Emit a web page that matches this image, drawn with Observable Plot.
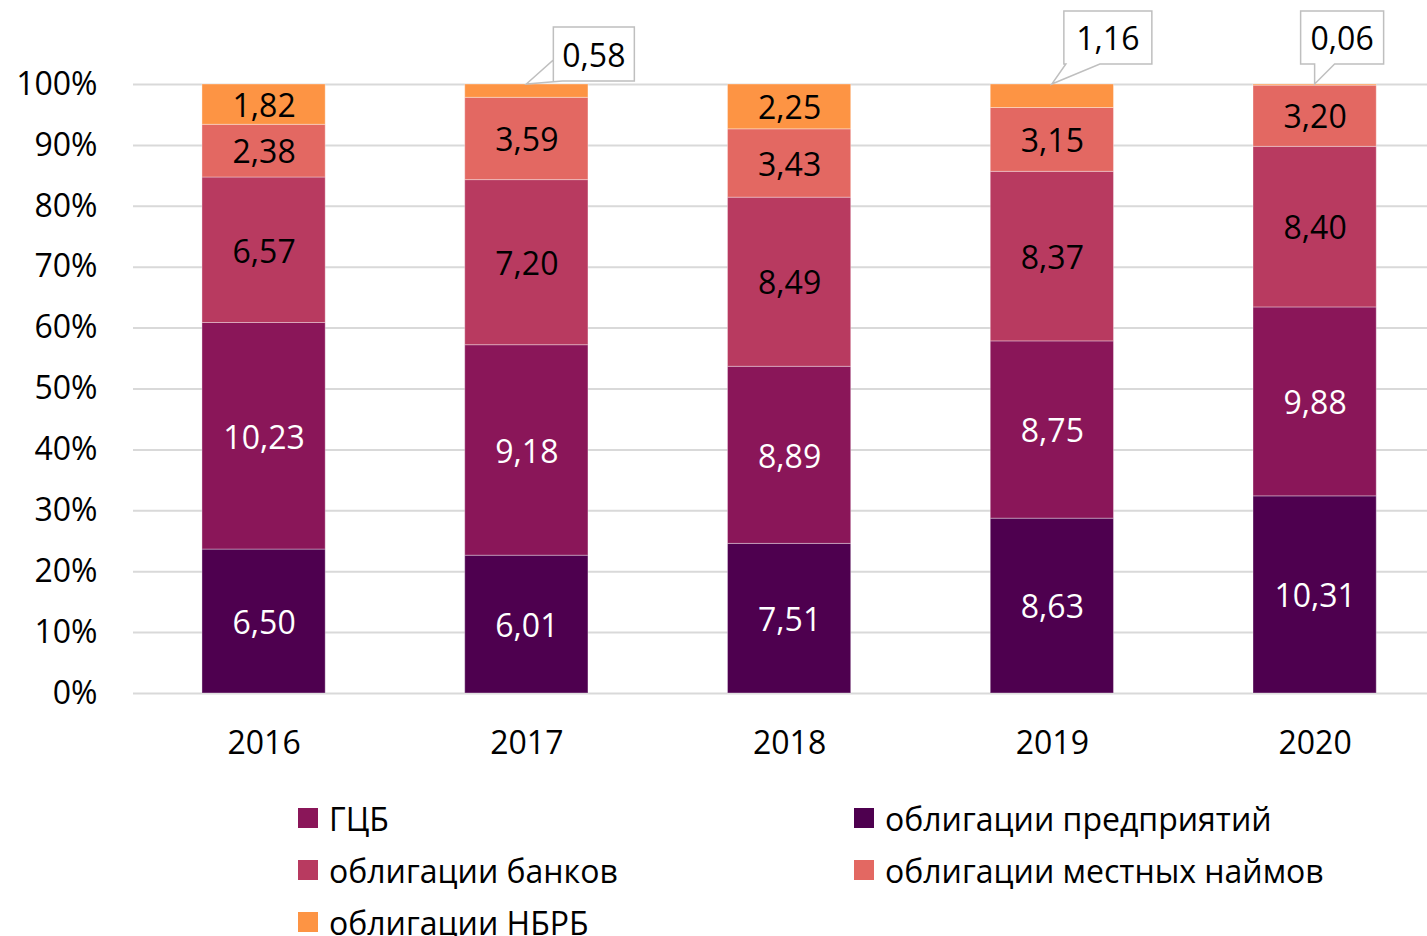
<!DOCTYPE html>
<html>
<head>
<meta charset="utf-8">
<script src="https://cdn.jsdelivr.net/npm/d3@7"></script>
<script src="https://cdn.jsdelivr.net/npm/@observablehq/plot@0.6"></script>
<style>
  html, body { margin: 0; padding: 0; background: white; overflow: hidden; }
  body { width: 1427px; height: 936px; font-family: "Open Sans", sans-serif; }
  #legend { position: relative; height: 146px; font-size: 32px; color: #000; }
  .item { position: absolute; display: flex; align-items: center; height: 40px; white-space: nowrap; }
  .sw { width: 20px; height: 20px; margin-right: 11px; flex: none; }
</style>
</head>
<body>
<div id="chart"></div>
<div id="legend"></div>
<script>
const years = ["2016", "2017", "2018", "2019", "2020"];
const seriesNames = ["облигации предприятий", "ГЦБ", "облигации банков", "облигации местных наймов", "облигации НБРБ"];
const enterprises = [6.50, 6.01, 7.51, 8.63, 10.31];
const gcb = [10.23, 9.18, 8.89, 8.75, 9.88];
const banks = [6.57, 7.20, 8.49, 8.37, 8.40];
const local = [2.38, 3.59, 3.43, 3.15, 3.20];
const nbrb = [1.82, 0.58, 2.25, 1.16, 0.06];
const yTicks = [0, 0.1, 0.2, 0.3, 0.4, 0.5, 0.6, 0.7, 0.8, 0.9, 1];
const calloutYears = ["2017", "2019", "2020"];

const colors = ["#4e004f", "#8a1659", "#b83a60", "#e36862", "#fd9444"];
const labelColors = ["white", "white", "black", "black", "black"];
const legendOrder = [1, 0, 2, 3, 4];

// callout box geometry relative to the bar top (style only)
const calloutShapes = {
  "2017": {x0: 27, x1: 108, y0: -57, y1: -3, wA: [36, -3], wB: [27, -24]},
  "2019": {x0: 12, x1: 100, y0: -73, y1: -20, wA: [48, -20], wB: [14, -20]},
  "2020": {x0: -14, x1: 69, y0: -73, y1: -20, wA: [20, -20], wB: [0, -20]}
};

const seriesValues = [enterprises, gcb, banks, local, nbrb];
const data = [];
seriesNames.forEach((s, si) => {
  years.forEach((y, yi) => {
    data.push({year: y, series: s, si, value: seriesValues[si][yi]});
  });
});
const fmt = v => v.toFixed(2).replace(".", ",");
const isCallout = d => d.si === 4 && calloutYears.includes(d.year);
const callouts = data.filter(isCallout);

const stackOpts = {x: "year", y: "value", z: "series", order: seriesNames, offset: "normalize"};

function calloutMark(index, scales, values, dimensions, context) {
  const g = d3.create("svg:g");
  const bw = scales.x.bandwidth ? scales.x.bandwidth() : 0;
  for (const d of callouts) {
    const tx = scales.x(d.year) + bw / 2;
    const ty = scales.y(1);
    const s = calloutShapes[d.year];
    const pts = [[s.x0, s.y0], [s.x1, s.y0], [s.x1, s.y1], s.wA, [0, 0], s.wB, [s.x0, s.y1]];
    g.append("path")
      .attr("d", "M" + pts.map(p => (tx + p[0]) + "," + (ty + p[1])).join("L") + "Z")
      .attr("fill", "white")
      .attr("stroke", "#bfbfbf")
      .attr("stroke-width", 1.5);
    g.append("text")
      .attr("x", tx + (s.x0 + s.x1) / 2)
      .attr("y", ty + (s.y0 + s.y1) / 2)
      .attr("text-anchor", "middle")
      .attr("dominant-baseline", "central")
      .attr("font-size", 32)
      .attr("fill", "black")
      .text(fmt(d.value));
  }
  return g.node();
}

const chart = Plot.plot({
  width: 1427,
  height: 790,
  marginLeft: 133,
  marginRight: 0,
  marginTop: 84,
  marginBottom: 97,
  style: {fontFamily: "Open Sans, sans-serif", fontSize: "32px", color: "black", background: "white"},
  x: {domain: years, range: [132.2, 1446], round: false, paddingInner: 0.531, paddingOuter: 0.2655, label: null, tickSize: 0, tickPadding: 38},
  y: {domain: [0, 1], ticks: yTicks, tickFormat: d => Math.round(d * 100) + "%", label: null, tickSize: 0, tickPadding: 36},
  color: {domain: seriesNames, range: colors},
  marks: [
    Plot.ruleY(yTicks, {stroke: "#d9d9d9", strokeWidth: 2}),
    Plot.barY(data, Plot.stackY({...stackOpts, fill: "series", stroke: "white", strokeOpacity: 0.35, strokeWidth: 1})),
    Plot.text(data, Plot.stackY({...stackOpts, text: d => isCallout(d) ? null : fmt(d.value), fill: d => labelColors[d.si], fontSize: 32, dy: 2})),
    calloutMark
  ]
});
document.getElementById("chart").appendChild(chart);

const legend = document.getElementById("legend");
const cols = [298, 854];
legendOrder.forEach((si, i) => {
  const item = document.createElement("div");
  item.className = "item";
  item.style.left = cols[i % 2] + "px";
  item.style.top = (8 + Math.floor(i / 2) * 52) + "px";
  const sw = document.createElement("span");
  sw.className = "sw";
  sw.style.background = colors[si];
  const t = document.createElement("span");
  t.textContent = seriesNames[si];
  item.appendChild(sw);
  item.appendChild(t);
  legend.appendChild(item);
});
</script>
</body>
</html>
